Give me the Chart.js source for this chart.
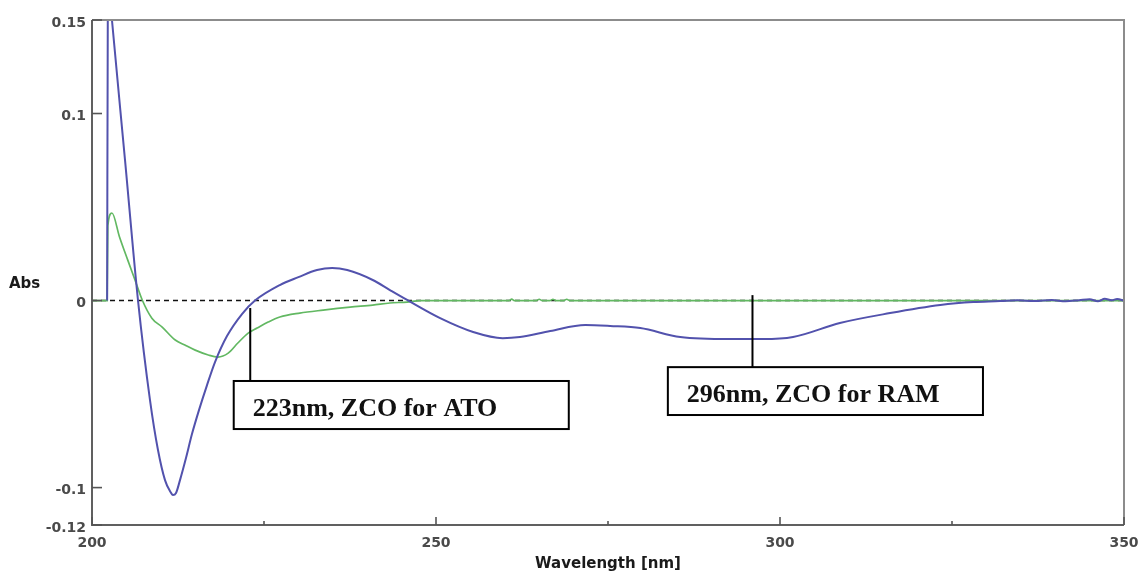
<!DOCTYPE html>
<html>
<head>
<meta charset="utf-8">
<title>Zero-crossing derivative spectra</title>
<script src="https://cdn.jsdelivr.net/npm/chart.js@4.4.1/dist/chart.umd.min.js"></script>
<style>
  html, body { margin: 0; padding: 0; background: #ffffff; }
  #wrap { position: relative; width: 1141px; height: 575px; }
</style>
</head>
<body>
<div id="wrap"><canvas id="spectrum" width="1141" height="575"></canvas></div>
<script>
// Tick values
const xTicks = [200, 250, 300, 350];
const xMinorTicks = [225, 275, 325];
const yTicks = [0.15, 0.1, 0, -0.1, -0.12];

// Blue trace (wavelength nm / absorbance)
const blueWl = [202.2, 202.3, 202.6, 202.9, 204.8, 206.69, 208.43, 209.59, 210.61, 211.34,
  211.77, 212.21, 212.79, 213.66, 214.53, 215.55, 216.72, 217.88, 219.62, 221.8,
  223.69, 227.3, 230.0, 232.7, 234.9, 237.1, 240.8, 243.3, 245.8, 250.6,
  255.4, 259.7, 262.2, 266.6, 271.7, 275.3, 279.7, 285.5, 292.7, 297.5,
  301.9, 308.7, 316.0, 323.3, 328.1, 332.0, 334.5, 337.0, 339.5, 341.5,
  343.5, 345.0, 346.2, 347.2, 348.2, 349.0, 350.0];
const blueAbs = [0, 0.158, 0.163, 0.15, 0.0751, 0.0, -0.0532, -0.0799, -0.096, -0.1019,
  -0.104, -0.1029, -0.096, -0.0842, -0.0714, -0.0586, -0.0452, -0.0329, -0.019, -0.0072,
  0.0, 0.0083, 0.0125, 0.0163, 0.0174, 0.0163, 0.0110, 0.0056, 0.0003, -0.0094,
  -0.0168, -0.0201, -0.0195, -0.0163, -0.0131, -0.0136, -0.0147, -0.0195, -0.0206, -0.0206,
  -0.0195, -0.0120, -0.0067, -0.0024, -0.0008, -0.0003, 0.0002, -0.0003, 0.0003, -0.0004,
  0.0002, 0.0007, -0.0004, 0.0009, 0.0002, 0.0008, 0.0];

// Green trace (wavelength nm / absorbance)
const greenWl = [200.0, 202.2, 202.3, 202.9, 204.0, 205.2, 206.25, 207.3, 208.7, 210.2,
  212.1, 213.5, 215.0, 216.9, 218.3, 219.8, 221.2, 222.7, 224.0, 225.6,
  227.3, 230.2, 233.6, 237.5, 240.8, 243.3, 245.8, 247.7, 255.0, 260.6,
  261.0, 261.4, 264.6, 265.0, 265.4, 266.6, 267.0, 267.4, 268.6, 269.0,
  269.4, 275.0, 350.0];
const greenAbs = [0, 0, 0.040, 0.0468, 0.034, 0.0216, 0.011, 0.0003, -0.0094, -0.0142,
  -0.0211, -0.0238, -0.0265, -0.0291, -0.0302, -0.0281, -0.0227, -0.0174, -0.0147, -0.0115,
  -0.0088, -0.0067, -0.0051, -0.0035, -0.0024, -0.0013, -0.0008, 0, 0, 0,
  0.0008, 0, 0, 0.0007, 0, 0, 0.0007, 0, 0, 0.0007,
  0, 0, 0];

// Zero-crossing callouts
const zcoLabels = ['223nm, ZCO for ATO', '296nm, ZCO for RAM'];
const zcoWavelengths = [223, 296];

const toPoints = (xs, ys) => xs.map((x, i) => ({ x: x, y: ys[i] }));

// Callout geometry in data units (line start, box corners)
const callouts = zcoLabels.map((text, i) => ({
  text: text,
  wl: zcoWavelengths[i],
  lineTop: [-0.004, 0.0029][i],
  box: [
    { left: 220.6, right: 269.3, top: -0.043, bottom: -0.0687 },
    { left: 283.7, right: 329.5, top: -0.0356, bottom: -0.0612 }
  ][i]
}));

const frameAndDecor = {
  id: 'frameAndDecor',
  beforeDatasetsDraw(chart) {
    const { ctx, chartArea: a, scales: { y } } = chart;
    ctx.save();
    // dashed zero baseline
    const y0 = y.getPixelForValue(0);
    ctx.strokeStyle = '#111';
    ctx.lineWidth = 1.6;
    ctx.setLineDash([5, 4]);
    ctx.beginPath();
    ctx.moveTo(a.left, y0);
    ctx.lineTo(a.right, y0);
    ctx.stroke();
    ctx.restore();
  },
  afterDatasetsDraw(chart) {
    const { ctx, chartArea: a, scales: { x, y } } = chart;
    ctx.save();
    // plot frame
    ctx.lineWidth = 2;
    ctx.strokeStyle = '#8c8c8c';
    ctx.beginPath();
    ctx.moveTo(a.left, a.top);
    ctx.lineTo(a.right, a.top);
    ctx.lineTo(a.right, a.bottom);
    ctx.stroke();
    ctx.strokeStyle = '#606060';
    ctx.beginPath();
    ctx.moveTo(a.left, a.top);
    ctx.lineTo(a.left, a.bottom);
    ctx.lineTo(a.right, a.bottom);
    ctx.stroke();

    // inward tick marks
    ctx.lineWidth = 1.6;
    ctx.strokeStyle = '#555';
    yTicks.forEach(v => {
      const py = y.getPixelForValue(v);
      ctx.beginPath();
      ctx.moveTo(a.left, py);
      ctx.lineTo(a.left + 10, py);
      ctx.stroke();
    });
    xTicks.forEach(v => {
      const px = x.getPixelForValue(v);
      ctx.beginPath();
      ctx.moveTo(px, a.bottom);
      ctx.lineTo(px, a.bottom - 8);
      ctx.stroke();
    });
    xMinorTicks.forEach(v => {
      const px = x.getPixelForValue(v);
      ctx.beginPath();
      ctx.moveTo(px, a.bottom);
      ctx.lineTo(px, a.bottom - 4);
      ctx.stroke();
    });

    // y axis caption
    ctx.fillStyle = '#1a1a1a';
    ctx.font = 'bold 15px "DejaVu Sans", sans-serif';
    ctx.textAlign = 'left';
    ctx.textBaseline = 'middle';
    ctx.fillText('Abs', 9, 284);

    // zero-crossing callouts
    callouts.forEach(c => {
      const lx = x.getPixelForValue(c.wl);
      const bl = x.getPixelForValue(c.box.left);
      const br = x.getPixelForValue(c.box.right);
      const bt = y.getPixelForValue(c.box.top);
      const bb = y.getPixelForValue(c.box.bottom);
      ctx.strokeStyle = '#000';
      ctx.lineWidth = 2;
      ctx.beginPath();
      ctx.moveTo(lx, y.getPixelForValue(c.lineTop));
      ctx.lineTo(lx, bt);
      ctx.stroke();
      ctx.fillStyle = '#ffffff';
      ctx.fillRect(bl, bt, br - bl, bb - bt);
      ctx.strokeRect(bl, bt, br - bl, bb - bt);
      ctx.fillStyle = '#111';
      ctx.font = 'bold 26px "Liberation Serif", "Times New Roman", serif';
      ctx.textAlign = 'left';
      ctx.textBaseline = 'alphabetic';
      ctx.fillText(c.text, bl + 19, bt + 35);
    });
    ctx.restore();
  }
};

new Chart(document.getElementById('spectrum'), {
  type: 'line',
  data: {
    datasets: [
      {
        label: 'Blue',
        data: toPoints(blueWl, blueAbs),
        borderColor: '#5252ad',
        borderWidth: 2,
        pointRadius: 0,
        fill: false,
        cubicInterpolationMode: 'monotone'
      },
      {
        label: 'Green',
        data: toPoints(greenWl, greenAbs),
        borderColor: '#62b862',
        borderWidth: 1.7,
        pointRadius: 0,
        fill: false,
        cubicInterpolationMode: 'monotone'
      }
    ]
  },
  options: {
    responsive: false,
    animation: false,
    devicePixelRatio: 1,
    layout: { padding: { left: 0, right: 17, top: 20, bottom: 0 } },
    plugins: {
      legend: { display: false },
      tooltip: { enabled: false }
    },
    scales: {
      x: {
        type: 'linear',
        min: 200,
        max: 350,
        afterBuildTicks: s => { s.ticks = xTicks.map(v => ({ value: v })); },
        afterFit: s => { s.height = 50; s.paddingLeft = 0; s.paddingRight = 0; },
        grid: { display: false, drawTicks: false },
        border: { display: false },
        ticks: {
          padding: 10,
          color: '#4a4a4a',
          font: { family: '"DejaVu Sans", sans-serif', size: 14, weight: 'bold' },
          maxRotation: 0,
          autoSkip: false,
          callback: v => String(v)
        },
        title: {
          display: true,
          text: 'Wavelength [nm]',
          color: '#1a1a1a',
          font: { family: '"DejaVu Sans", sans-serif', size: 15, weight: 'bold' },
          padding: { top: 0, bottom: 2 }
        }
      },
      y: {
        type: 'linear',
        min: -0.12,
        max: 0.15,
        afterBuildTicks: s => { s.ticks = yTicks.map(v => ({ value: v })); },
        afterFit: s => { s.width = 92; s.paddingTop = 0; s.paddingBottom = 0; },
        grid: { display: false, drawTicks: false },
        border: { display: false },
        ticks: {
          padding: 6,
          labelOffset: 3,
          color: '#4a4a4a',
          font: { family: '"DejaVu Sans", sans-serif', size: 14, weight: 'bold' },
          autoSkip: false,
          callback: v => String(v)
        }
      }
    }
  },
  plugins: [frameAndDecor]
});
</script>
</body>
</html>
